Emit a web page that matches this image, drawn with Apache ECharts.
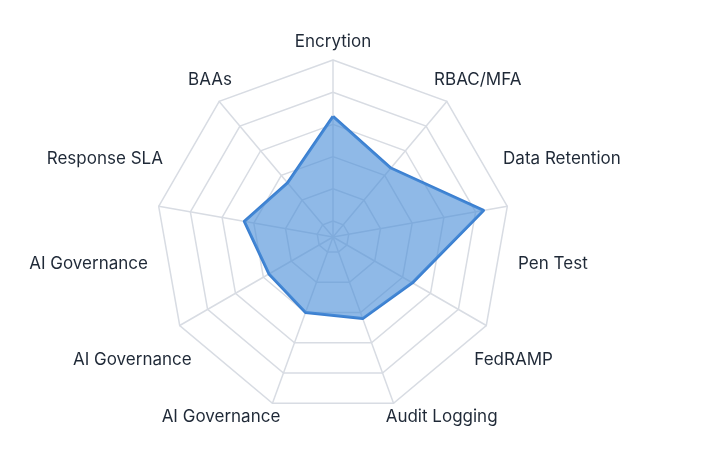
<!DOCTYPE html>
<html>
<head>
<meta charset="utf-8">
<script src="https://cdn.jsdelivr.net/npm/echarts@6/dist/echarts.min.js"></script>
<style>
  html, body { margin: 0; padding: 0; background: #ffffff; }
  #chart { width: 715px; height: 472px; }
</style>
</head>
<body>
<div id="chart"></div>
<script>
// Axis names, listed in ECharts' radar order (top, then counter-clockwise)
const axisNames = ['Encrytion', 'BAAs', 'Response SLA', 'AI Governance', 'AI Governance',
  'AI Governance', 'Audit Logging', 'FedRAMP', 'Pen Test', 'Data Retention', 'RBAC/MFA'];
// Score values on the drawn spokes (top, then counter-clockwise)
const scoreValues = [65, 34, 46, 36, 40, 44, 47, 85, 46];
const scaleMin = 0;
const scaleMax = 100;
const ringCount = 5;

const chart = echarts.init(document.getElementById('chart'), null, { renderer: 'canvas' });

const gridIndicators = scoreValues.map(() => ({ name: '', min: scaleMin, max: scaleMax }));
const nameIndicators = axisNames.map(n => ({ name: n, min: scaleMin, max: scaleMax }));

const CENTER = [333, 237];
const R = 177;
const GRID = '#d8dce3';

chart.setOption({
  backgroundColor: '#ffffff',
  animation: false,
  radar: [
    {
      // rings (value scale 0..100, with the 0 ring just off the centre)
      center: CENTER,
      radius: [16, R],
      shape: 'polygon',
      splitNumber: ringCount,
      indicator: gridIndicators,
      axisName: { show: false },
      axisLine: { show: false },
      splitLine: { lineStyle: { color: GRID, width: 1.5 } },
      splitArea: { show: false }
    },
    {
      // spokes running right into the centre
      center: CENTER,
      radius: R,
      shape: 'polygon',
      indicator: gridIndicators,
      axisName: { show: false },
      axisLine: { lineStyle: { color: GRID, width: 1.5 } },
      splitLine: { show: false },
      splitArea: { show: false }
    },
    {
      // axis names
      center: CENTER,
      radius: R,
      shape: 'polygon',
      indicator: nameIndicators,
      nameGap: 10,
      axisName: {
        color: '#1f2937',
        fontSize: 17,
        fontFamily: 'Inter, "Noto Sans", sans-serif'
      },
      axisLine: { show: false },
      splitLine: { show: false },
      splitArea: { show: false }
    }
  ],
  series: [
    {
      type: 'radar',
      radarIndex: 0,
      symbol: 'none',
      lineStyle: { color: '#3b7fd0', width: 3 },
      areaStyle: { color: '#4a8ed8', opacity: 0.62 },
      data: [{ value: scoreValues, name: 'Score' }]
    }
  ]
});
</script>
</body>
</html>
